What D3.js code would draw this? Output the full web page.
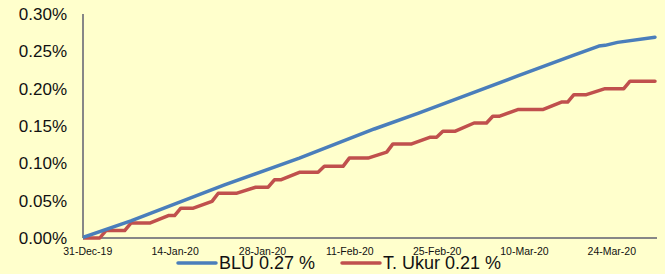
<!DOCTYPE html>
<html>
<head>
<meta charset="utf-8">
<script src="https://cdn.jsdelivr.net/npm/d3@7"></script>
<style>
  html, body { margin: 0; padding: 0; background: #ffffcc; }
  svg { display: block; font-family: "Liberation Sans", Arial, sans-serif; }
</style>
</head>
<body>
<script>
// data (values in %)
const bluDates = ['2019-12-30', '2020-01-07', '2020-01-22', '2020-02-03', '2020-02-15', '2020-02-22',
                  '2020-03-09', '2020-03-18', '2020-03-22', '2020-03-23', '2020-03-25', '2020-03-31'];
const bluValues = [0, 0.023, 0.071, 0.107, 0.146, 0.167, 0.217, 0.245, 0.257, 0.258, 0.262, 0.269];

const ukurDates = ['2019-12-30', '2020-01-02', '2020-01-03', '2020-01-06', '2020-01-07', '2020-01-10',
                   '2020-01-13', '2020-01-14', '2020-01-15', '2020-01-17', '2020-01-20', '2020-01-21',
                   '2020-01-24', '2020-01-27', '2020-01-29', '2020-01-30', '2020-01-31', '2020-02-03',
                   '2020-02-06', '2020-02-07', '2020-02-10', '2020-02-11', '2020-02-14', '2020-02-17',
                   '2020-02-18', '2020-02-21', '2020-02-24', '2020-02-25', '2020-02-26', '2020-02-28',
                   '2020-03-02', '2020-03-04', '2020-03-05', '2020-03-06', '2020-03-09', '2020-03-13',
                   '2020-03-16', '2020-03-17', '2020-03-18', '2020-03-20', '2020-03-23', '2020-03-26',
                   '2020-03-27', '2020-03-31'];
const ukurValues = [0, 0, 0.01, 0.01, 0.02, 0.02,
                    0.03, 0.03, 0.04, 0.04, 0.049, 0.06,
                    0.06, 0.068, 0.068, 0.078, 0.078, 0.088,
                    0.088, 0.096, 0.096, 0.107, 0.107, 0.115,
                    0.126, 0.126, 0.135, 0.135, 0.143, 0.143,
                    0.154, 0.154, 0.163, 0.163, 0.172, 0.172,
                    0.182, 0.182, 0.192, 0.192, 0.200, 0.200,
                    0.21, 0.21];

const xTickDates = ['2019-12-31', '2020-01-14', '2020-01-28', '2020-02-11', '2020-02-25', '2020-03-10', '2020-03-24'];
const yTicks = [0, 0.05, 0.10, 0.15, 0.20, 0.25, 0.30];
const legendLabels = ['BLU 0.27 %', 'T. Ukur 0.21 %'];

const width = 665;
const height = 274;
const axisX = 83;
const axisY = 238;

const parse = d3.timeParse('%Y-%m-%d');

const svg = d3.select('body')
              .append('svg')
              .attr('width', width)
              .attr('height', height);

svg.append('rect')
   .attr('width', width)
   .attr('height', height)
   .attr('fill', '#ffffcc');

// keep the series inside the plot area (starts right on the y axis)
svg.append('clipPath')
   .attr('id', 'plot-clip')
   .append('rect')
   .attr('x', axisX)
   .attr('y', 0)
   .attr('width', width - axisX)
   .attr('height', axisY + 3);

const xScale = d3.scaleTime()
                 .domain([parse('2019-12-30'), parse('2020-03-31')])
                 .range([81, 655]);

const yScale = d3.scaleLinear()
                 .domain([0, 0.30])
                 .range([axisY, 14]);

// axes, ticks hidden, only labels
const yAxis = d3.axisLeft(yScale)
                .tickValues(yTicks)
                .tickSize(0)
                .tickPadding(16)
                .tickFormat(d => d.toFixed(2) + '%');

const xAxis = d3.axisBottom(xScale)
                .tickValues(xTickDates.map(parse))
                .tickSize(0)
                .tickPadding(10)
                .tickFormat(d3.timeFormat('%d-%b-%y'));

const gy = svg.append('g')
   .attr('transform', `translate(${axisX}, 0)`)
   .call(yAxis);
gy.select('.domain').remove();
gy.selectAll('text')
  .style('font-size', '17px')
  .style('fill', '#111');

const gx = svg.append('g')
   .attr('transform', `translate(0, ${axisY})`)
   .call(xAxis);
gx.select('.domain').remove();
gx.selectAll('text')
  .style('font-size', '10.5px')
  .style('fill', '#111');

// axis lines
svg.append('line')
   .attr('x1', axisX).attr('x2', axisX)
   .attr('y1', yScale(0.30)).attr('y2', axisY)
   .attr('stroke', '#878787')
   .attr('stroke-width', 2);

svg.append('line')
   .attr('x1', axisX).attr('x2', 657)
   .attr('y1', axisY).attr('y2', axisY)
   .attr('stroke', '#878787')
   .attr('stroke-width', 2);

const line = d3.line()
               .x(d => xScale(d[0]))
               .y(d => yScale(d[1]));

const bluData = bluDates.map((d, i) => [parse(d), bluValues[i]]);
const ukurData = ukurDates.map((d, i) => [parse(d), ukurValues[i]]);

const plot = svg.append('g').attr('clip-path', 'url(#plot-clip)');

plot.append('path')
   .datum(ukurData)
   .attr('d', line)
   .attr('fill', 'none')
   .attr('stroke', '#c0504d')
   .attr('stroke-width', 3.5)
   .attr('stroke-linejoin', 'round')
   .attr('stroke-linecap', 'round');

plot.append('path')
   .datum(bluData)
   .attr('d', line)
   .attr('fill', 'none')
   .attr('stroke', '#4a7ebb')
   .attr('stroke-width', 3.5)
   .attr('stroke-linejoin', 'round')
   .attr('stroke-linecap', 'round');

// legend
const legend = svg.append('g');
const legendItems = [
  { label: legendLabels[0], color: '#4a7ebb', x: 178 },
  { label: legendLabels[1], color: '#c0504d', x: 342 }
];
legendItems.forEach(item => {
  legend.append('line')
        .attr('x1', item.x).attr('x2', item.x + 38)
        .attr('y1', 263).attr('y2', 263)
        .attr('stroke', item.color)
        .attr('stroke-width', 3.5)
        .attr('stroke-linecap', 'round');
  legend.append('text')
        .attr('x', item.x + 41)
        .attr('y', 269)
        .style('font-size', '18px')
        .style('fill', '#111')
        .text(item.label);
});
</script>
</body>
</html>
